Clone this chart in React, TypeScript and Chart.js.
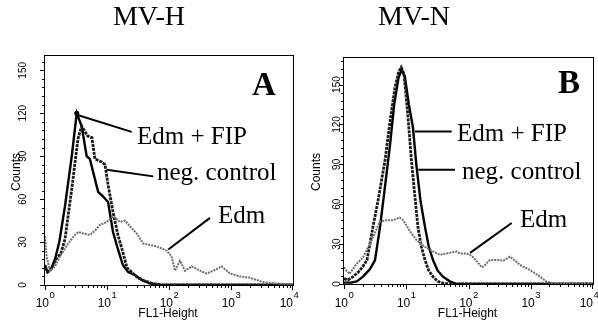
import React, { useEffect, useRef } from "react";
import { Chart, registerables } from "chart.js";

Chart.register(...registerables);

type Pt = [number, number];

// ---------- Data (FL1-Height, Counts) ----------
const A_EDM_FIP: Pt[] = [
  [1, 14], [1.1, 9], [1.25, 11], [1.45, 18], [1.7, 30], [2.1, 55], [2.7, 90],
  [3.25, 120], [3.9, 111], [4.7, 90], [5.3, 88], [6.3, 75], [7.2, 65], [8.6, 62],
  [10.4, 58], [12.5, 37], [15, 25], [18, 14], [22, 9], [28, 7], [38, 3], [50, 1],
  [70, 0], [10000, 0],
];
const A_NEG_CONTROL: Pt[] = [
  [1, 12], [1.1, 9], [1.3, 12], [1.45, 17], [1.8, 22], [2.1, 32], [2.7, 67],
  [3.4, 102], [3.9, 111], [4.9, 104], [5.7, 103], [6.4, 88], [8.2, 86], [9.3, 84],
  [10.4, 70], [12.5, 51], [15, 35], [18, 23], [21, 12], [25, 9], [31.6, 5],
  [40, 3], [55, 1], [80, 0], [10000, 0],
];
const A_EDM: Pt[] = [
  [1, 34], [1.06, 20], [1.2, 10], [1.45, 13], [1.75, 20], [2.2, 27], [2.9, 34],
  [3.45, 37], [4.15, 36], [5.3, 35], [6.4, 38], [7.7, 42], [9.9, 44], [12.6, 48],
  [16.2, 44], [19.5, 45], [23.5, 41], [30, 36], [38.5, 29], [49, 28], [63, 27],
  [92, 24], [110, 20], [125, 10], [150, 17], [181, 10], [232, 13], [316, 10],
  [405, 8], [519, 10], [707, 13], [963, 8], [1397, 6], [2025, 5], [3325, 2],
  [5455, 1], [8950, 0.5], [10000, 0],
];

const B_EDM_FIP: Pt[] = [
  [1, 1], [1.3, 1], [1.6, 2], [2.02, 5.5], [2.6, 11], [3.15, 18], [3.79, 43],
  [4.6, 75], [5.5, 105], [6.4, 135], [7.5, 155], [8.4, 161], [9.5, 156], [11, 135],
  [12.8, 118], [14.5, 90], [17, 62], [20, 43], [23, 28], [26.9, 18], [32, 10],
  [38.9, 5.5], [50, 2], [65, 0], [10000, 0],
];
const B_NEG_CONTROL: Pt[] = [
  [1, 4], [1.15, 3], [1.4, 5.5], [1.7, 9], [2.0, 13], [2.34, 18], [2.92, 43],
  [3.5, 62], [4.56, 93], [5.48, 122], [6.6, 148], [7.6, 160], [8.3, 163],
  [9.2, 158], [10.7, 125], [12, 95], [13.5, 70], [15.4, 43], [17.5, 28], [20, 18],
  [23, 10], [26.9, 5.5], [32, 2], [40, 0.5], [50, 0], [10000, 0],
];
const B_EDM: Pt[] = [
  [1, 12.6], [1.09, 10], [1.23, 7.6], [1.58, 15], [2.02, 20], [2.59, 30],
  [3.12, 38], [3.76, 47], [4.8, 48], [6.15, 48], [7.9, 50], [8.9, 48], [11.4, 40],
  [14.6, 33], [20, 28], [25.5, 25], [34.8, 22], [44.5, 23], [57, 24], [65, 24.4],
  [73, 23], [93, 23], [105, 22], [120, 20], [163, 12.6], [172, 13], [221, 18],
  [297, 18], [364, 17.6], [464, 20.6], [597, 16.4], [671, 14.3], [975, 10.5],
  [1410, 5.5], [1800, 1.7], [2290, 0.5], [10000, 0],
];

const Y_TICK_LABELS = [0, 30, 60, 90, 120, 150];
const Y_MINOR_STEP = 6;
const X_DECADES = [0, 1, 2, 3, 4];

const LABEL_FIP = "Edm + FIP";
const LABEL_NEG = "neg. control";
const LABEL_EDM = "Edm";

type Leader = { from: Pt; to: Pt };

type PanelSpec = {
  title: string;
  titleX: number;
  letter: string;
  letterX: number;
  letterY: number;
  yMax: number;
  edmFip: Pt[];
  neg: Pt[];
  edm: Pt[];
  padding: { left: number; right: number; top: number; bottom: number };
  yLabelX: number;
  countsX: number;
  texts: { text: string; x: number; y: number }[];
  leaders: Leader[];
  peakDot: Pt | null;
};

const PANELS: PanelSpec[] = [
  {
    title: "MV-H",
    titleX: 149,
    letter: "A",
    letterX: 252,
    letterY: 95,
    yMax: 160,
    edmFip: A_EDM_FIP,
    neg: A_NEG_CONTROL,
    edm: A_EDM,
    padding: { left: 45, right: 6, top: 56, bottom: 35 },
    yLabelX: 23,
    countsX: 16.5,
    texts: [
      { text: LABEL_FIP, x: 137, y: 144 },
      { text: LABEL_NEG, x: 157, y: 180 },
      { text: LABEL_EDM, x: 218, y: 223 },
    ],
    leaders: [
      { from: [3.25, 119], to: [25, 107] },
      { from: [9.9, 80.6], to: [55.8, 75.9] },
      { from: [97.4, 24.8], to: [458, 46.9] },
    ],
    peakDot: [3.25, 120],
  },
  {
    title: "MV-N",
    titleX: 115,
    letter: "B",
    letterX: 259,
    letterY: 93,
    yMax: 170,
    edmFip: B_EDM_FIP,
    neg: B_NEG_CONTROL,
    edm: B_EDM,
    padding: { left: 45, right: 5, top: 58, bottom: 36 },
    yLabelX: 38,
    countsX: 17.5,
    texts: [
      { text: LABEL_FIP, x: 158, y: 141 },
      { text: LABEL_NEG, x: 163, y: 178.5 },
      { text: LABEL_EDM, x: 221, y: 227 },
    ],
    leaders: [
      { from: [13.8, 114.7], to: [53.7, 114.7] },
      { from: [15.6, 86], to: [60.7, 86] },
      { from: [106, 23.4], to: [494, 45.9] },
    ],
    peakDot: null,
  },
];

const SANS = '"Liberation Sans", Arial, sans-serif';
const SERIF = '"Liberation Serif", "Times New Roman", serif';

function toXY(pts: Pt[]) {
  return pts.map(([x, y]) => ({ x, y }));
}

function makePlugin(spec: PanelSpec) {
  return {
    id: "panelDecor" + spec.letter,
    afterDraw(chart: any) {
      const ctx: CanvasRenderingContext2D = chart.ctx;
      const { left, right, top, bottom } = chart.chartArea;
      const xs = chart.scales.x;
      const ys = chart.scales.y;
      ctx.save();
      ctx.fillStyle = "#000";
      ctx.strokeStyle = "#000";

      // frame
      ctx.lineWidth = 1;
      ctx.strokeRect(left - 0.5, top - 0.5, right - left + 1, bottom - top + 1);

      // y ticks
      ctx.beginPath();
      for (let v = 0; v <= spec.yMax; v += Y_MINOR_STEP) {
        const py = Math.round(ys.getPixelForValue(v)) + 0.5;
        const major = Y_TICK_LABELS.includes(v);
        ctx.moveTo(left, py);
        ctx.lineTo(left - (major ? 5 : 3), py);
      }
      // x ticks
      for (let k = 0; k < 4; k++) {
        for (let m = 1; m <= 9; m++) {
          const v = m * Math.pow(10, k);
          const px = Math.round(xs.getPixelForValue(v)) + 0.5;
          ctx.moveTo(px, bottom);
          ctx.lineTo(px, bottom + (m === 1 ? 5 : 3));
        }
      }
      const pxEnd = Math.round(xs.getPixelForValue(10000)) - 0.5;
      ctx.moveTo(pxEnd, bottom);
      ctx.lineTo(pxEnd, bottom + 5);
      ctx.stroke();

      // y tick labels (rotated)
      ctx.font = `10px ${SANS}`;
      ctx.textAlign = "center";
      ctx.textBaseline = "middle";
      for (const v of Y_TICK_LABELS) {
        const py = ys.getPixelForValue(v);
        ctx.save();
        ctx.translate(spec.yLabelX, py);
        ctx.rotate(-Math.PI / 2);
        ctx.fillText(String(v), 0, 0);
        ctx.restore();
      }

      // Counts
      ctx.font = `12px ${SANS}`;
      ctx.save();
      ctx.translate(spec.countsX, 172);
      ctx.rotate(-Math.PI / 2);
      ctx.fillText("Counts", 0, 0);
      ctx.restore();

      // x tick labels: 10^k
      ctx.textBaseline = "alphabetic";
      ctx.textAlign = "left";
      for (const k of X_DECADES) {
        const px = xs.getPixelForValue(Math.pow(10, k));
        ctx.font = `12px ${SANS}`;
        const w10 = ctx.measureText("10").width;
        ctx.font = `9.5px ${SANS}`;
        const wExp = ctx.measureText(String(k)).width;
        let start = px - (w10 + wExp) / 2;
        if (k === 4) start -= 4;
        ctx.font = `12px ${SANS}`;
        ctx.fillText("10", start, 306.5);
        ctx.font = `9.5px ${SANS}`;
        ctx.fillText(String(k), start + w10 + 0.5, 297.5);
      }

      // x axis title
      ctx.font = `12px ${SANS}`;
      ctx.textAlign = "center";
      ctx.fillText("FL1-Height", (left + right) / 2 - 1, 317);

      // panel title
      ctx.font = `28px ${SERIF}`;
      ctx.fillText(spec.title, spec.titleX, 24.5);

      // panel letter
      ctx.font = `bold 33px ${SERIF}`;
      ctx.textAlign = "left";
      ctx.fillText(spec.letter, spec.letterX, spec.letterY);

      // annotation texts
      ctx.font = `25px ${SERIF}`;
      for (const t of spec.texts) ctx.fillText(t.text, t.x, t.y);

      // leader lines
      ctx.lineWidth = 2;
      ctx.lineCap = "butt";
      for (const l of spec.leaders) {
        ctx.beginPath();
        ctx.moveTo(xs.getPixelForValue(l.from[0]), ys.getPixelForValue(l.from[1]));
        ctx.lineTo(xs.getPixelForValue(l.to[0]), ys.getPixelForValue(l.to[1]));
        ctx.stroke();
      }
      if (spec.peakDot) {
        ctx.beginPath();
        ctx.arc(
          xs.getPixelForValue(spec.peakDot[0]),
          ys.getPixelForValue(spec.peakDot[1]),
          2.5,
          0,
          Math.PI * 2
        );
        ctx.fill();
      }
      ctx.restore();
    },
  };
}

function Panel({ spec, left }: { spec: PanelSpec; left: number }) {
  const ref = useRef<HTMLCanvasElement | null>(null);
  useEffect(() => {
    if (!ref.current) return;
    const chart = new Chart(ref.current, {
      type: "line",
      data: {
        datasets: [
          {
            label: LABEL_EDM,
            data: toXY(spec.edm),
            borderColor: "#6e6e6e",
            borderWidth: 2,
            borderDash: [2, 1],
            pointRadius: 0,
            tension: 0,
            fill: false,
          },
          {
            label: LABEL_NEG,
            data: toXY(spec.neg),
            borderColor: "#1a1a1a",
            borderWidth: 2.8,
            borderDash: [3, 1],
            pointRadius: 0,
            tension: 0,
            fill: false,
          },
          {
            label: LABEL_FIP,
            data: toXY(spec.edmFip),
            borderColor: "#000",
            borderWidth: 2.4,
            pointRadius: 0,
            tension: 0,
            fill: false,
          },
        ],
      },
      options: {
        animation: false,
        responsive: false,
        devicePixelRatio: 1,
        layout: { padding: spec.padding },
        plugins: {
          legend: { display: false },
          tooltip: { enabled: false },
          title: { display: false },
        },
        scales: {
          x: { type: "logarithmic", min: 1, max: 10000, display: false },
          y: { type: "linear", min: 0, max: spec.yMax, display: false },
        },
      },
      plugins: [makePlugin(spec)],
    } as any);
    return () => chart.destroy();
  }, [spec]);
  return (
    <canvas
      ref={ref}
      width={299}
      height={320}
      style={{ position: "absolute", left, top: 0, width: 299, height: 320 }}
    />
  );
}

export default function App() {
  return (
    <div
      style={{
        position: "absolute",
        left: 0,
        top: 0,
        width: 598,
        height: 320,
        background: "#fff",
        overflow: "hidden",
      }}
    >
      <Panel spec={PANELS[0]} left={0} />
      <Panel spec={PANELS[1]} left={299} />
    </div>
  );
}
